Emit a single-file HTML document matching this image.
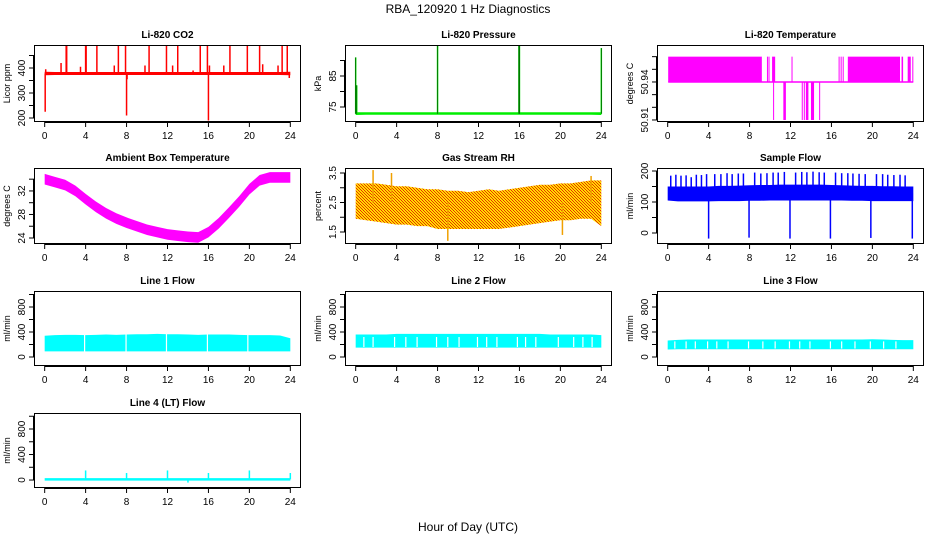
<!DOCTYPE html>
<html><head><meta charset="utf-8"><style>
body{margin:0;background:#fff;}
svg{display:block;font-family:"Liberation Sans",Arial,sans-serif;}
</style></head><body>
<svg id="c" width="936" height="540" xmlns="http://www.w3.org/2000/svg">
<defs><pattern id="rhpat" width="3" height="3" patternUnits="userSpaceOnUse"><rect width="3" height="3" fill="#ffdd00"/><rect width="1" height="1" fill="#e83000"/><rect x="1" y="1" width="1" height="1" fill="#e83000"/><rect x="2" y="2" width="1" height="1" fill="#e83000"/></pattern></defs>
<text x="468" y="13" text-anchor="middle" font-size="12">RBA_120920  1 Hz Diagnostics</text>
<text x="468" y="531" text-anchor="middle" font-size="12">Hour of Day (UTC)</text>
</svg>
<script>
// ---- data ----
const hours=[0,1,2,3,4,5,6,7,8,9,10,11,12,13,14,15,16,17,18,19,20,21,22,23,24];
const xTicks=[0,4,8,12,16,20,24];
// CO2
const co2Lo=[371,372,372,372,372,372,372,372,372,372,372,372,372,372,372,372,372,372,372,372,372,372,372,372,371];
const co2Hi=[385,384,384,384,384,384,384,384,384,384,384,384,384,384,384,384,384,384,384,384,384,384,384,384,385];
const co2SpikeHours=[0.05,0.1,1.6,2.1,2.15,3.5,4.0,4.05,5.1,6.8,7.2,7.9,8.0,8.05,9.8,10.2,11.9,12.5,13.0,14.5,15.2,15.9,16.0,16.1,17.5,18.1,19.8,21.0,21.3,22.8,23.2,23.7,23.9];
const co2SpikeVals=[225,395,420,490,490,405,490,490,490,410,490,490,210,355,410,490,490,410,490,390,490,490,190,410,410,490,490,490,415,410,490,490,360];
// Pressure
const presLo=[72.4,72.5,72.5,72.5,72.5,72.5,72.5,72.5,72.5,72.5,72.5,72.5,72.5,72.5,72.5,72.5,72.5,72.5,72.5,72.5,72.5,72.5,72.5,72.5,72.4];
const presHi=[73.3,73.3,73.3,73.3,73.3,73.3,73.3,73.3,73.3,73.3,73.3,73.3,73.3,73.3,73.3,73.3,73.3,73.3,73.3,73.3,73.3,73.3,73.3,73.3,73.3];
const presSpikeHours=[0.0,0.1,8.0,15.95,16.0,24.0];
const presSpikeVals=[91,82,95,95,95,94];
// Li-820 temperature (fill between base and level)
const ltBase=50.94;
const ltStart=[0.05,9.7,9.85,10.2,12.1,16.7,16.9,17.1,17.6,22.85,23.45,23.9,10.3,11.3,13.1,13.3,13.5,14.0,14.8];
const ltEnd=[9.2,9.75,9.9,10.5,12.15,16.75,16.95,17.15,22.7,23.0,23.75,24.0,10.35,11.55,13.15,13.35,13.75,14.3,14.85];
const ltLevel=[50.96,50.96,50.96,50.96,50.96,50.96,50.96,50.96,50.96,50.96,50.96,50.96,50.91,50.91,50.91,50.91,50.91,50.91,50.91];
// Ambient box temperature
const ambMid=[34.0,33.5,33.0,32.0,30.6,29.3,28.2,27.3,26.6,26.0,25.4,25.0,24.6,24.4,24.2,24.1,25.0,26.5,28.3,30.2,32.3,33.8,34.3,34.3,34.3];
const ambHalf=0.9;
// Gas stream RH
const rhLo=[1.95,1.9,1.85,1.8,1.75,1.75,1.7,1.7,1.6,1.6,1.6,1.6,1.6,1.6,1.6,1.65,1.7,1.75,1.8,1.85,1.9,1.9,1.95,1.95,1.7];
const rhHi=[3.15,3.15,3.15,3.1,3.05,3.05,3.0,2.95,2.95,2.9,2.9,2.85,2.9,2.95,2.9,2.95,3.0,3.05,3.1,3.1,3.15,3.15,3.2,3.25,3.25];
const rhSpikeHours=[1.7,3.5,9.0,20.2,23.0];
const rhSpikeVals=[3.6,3.5,1.2,1.4,3.4];
// Sample flow
const sfLo=[105,102,102,102,102,103,103,103,104,104,105,105,105,105,105,105,105,105,104,104,103,103,103,103,103];
const sfHi=[150,150,150,150,150,152,152,153,154,155,155,156,156,156,156,156,155,154,153,152,152,151,151,150,150];
const sfSpikeHours=[0.3,0.8,1.3,1.8,2.3,2.8,3.3,3.8,4.0,4.6,5.2,5.8,6.3,6.9,7.4,7.95,8.5,9.1,9.7,10.3,10.8,11.4,11.95,12.5,13.1,13.6,14.2,14.8,15.3,15.9,16.4,17.0,17.6,18.1,18.7,19.3,19.85,20.4,21.0,21.5,22.1,22.7,23.2,23.9];
const sfSpikeVals=[185,188,185,186,180,188,187,190,-18,190,190,193,190,192,192,-15,195,192,193,195,195,197,-18,195,197,196,198,196,195,-18,195,193,193,192,191,190,-16,190,190,188,187,188,186,-18];
// Line flows
const l1Lo=[90,90,90,90,90,90,90,90,90,90,90,90,90,90,90,90,90,90,90,90,90,90,90,90,90];
const l1Hi=[340,350,355,355,350,355,360,355,360,365,365,370,365,365,360,355,360,360,360,355,350,350,350,345,300];
const l1GapHours=[3.9,7.95,11.9,15.9,19.85];
const l2Lo=[150,150,150,150,150,150,150,150,150,150,150,150,150,150,150,150,150,150,150,150,150,150,150,150,150];
const l2Hi=[360,360,360,360,370,370,370,370,370,370,370,370,370,370,370,370,370,370,370,360,360,360,360,360,350];
const l2GapHours=[0.8,1.7,3.8,4.9,6.0,7.9,9.0,10.1,11.9,12.8,13.8,15.8,16.6,17.6,19.8,21.3,22.2,23.1];
const l3Lo=[120,125,125,125,125,125,125,125,125,125,125,125,125,125,125,125,125,125,125,125,125,125,125,125,125];
const l3Hi=[265,275,280,280,280,280,280,280,280,280,280,280,280,280,280,280,280,280,280,280,285,280,275,270,270];
const l3GapHours=[0.7,1.8,2.7,3.9,4.8,5.9,7.9,9.3,10.5,11.9,12.9,13.9,15.9,17.0,18.3,19.8,21.1,22.3];
const l4Lo=[-10,-10,-10,-10,-10,-10,-10,-10,-10,-10,-10,-10,-10,-10,-10,-10,-10,-10,-10,-10,-10,-10,-10,-10,-10];
const l4Hi=[30,30,30,30,30,30,30,30,30,30,30,30,30,30,30,30,30,30,30,30,30,30,30,30,30];
const l4SpikeHours=[4.0,8.0,12.0,14.0,16.0,20.0,24.0];
const l4SpikeVals=[150,110,150,-40,110,150,110];

// ---- layout ----
const svg=document.getElementById('c');
const NS='http://www.w3.org/2000/svg';
const colX=[[34,301],[345,612],[657,924]];
const rowY=[[45,122],[168,244],[291,366],[413,488]];
function el(tag,attrs,parent){const e=document.createElementNS(NS,tag);for(const k in attrs)e.setAttribute(k,attrs[k]);(parent||svg).appendChild(e);return e;}

function panel(name,col,row,title,ylab,ymin,ymax,yticks,ylabels){
  const [x0,x1]=colX[col],[y0,y1]=rowY[row];
  const g=el('g',{});
  
  
  const w=x1-x0;
  const sx=h=>x0+w*0.04+(h/24)*w*0.92;
  const sy=v=>y1-(v-ymin)/(ymax-ymin)*(y1-y0);
  const t=el('text',{x:(x0+x1)/2,y:y0-7,'text-anchor':'middle','font-size':'10','font-weight':'bold'},g);
  t.textContent=title;
  
  
  const plot=el('g',{},g);
  
  
  const ax=el('g',{stroke:'#000','stroke-width':'1',fill:'none'},g);
  
  
  el('line',{x1:sx(0),x2:sx(24),y1:y1+0.5,y2:y1+0.5},ax);
  xTicks.forEach(h=>{
    el('line',{x1:sx(h),x2:sx(h),y1:y1,y2:y1+5},ax);
    const l=el('text',{x:sx(h),y:y1+17,'text-anchor':'middle','font-size':'10',fill:'#000',stroke:'none'},ax);
    l.textContent=h;
    
    
  });
  const ay=el('g',{stroke:'#000','stroke-width':'1',fill:'none'},g);
  
  
  yticks.forEach((v,i)=>{
    const y=sy(v);
    el('line',{x1:x0-5,x2:x0,y1:y,y2:y},ay);
    if(ylabels[i]){
      const l=el('text',{x:0,y:0,transform:`translate(${x0-9},${y}) rotate(-90)`,'text-anchor':'middle','font-size':'10',fill:'#000',stroke:'none'},ay);
      l.textContent=ylabels[i];
      
      
    }
  });
  el('line',{x1:x0-0.5,x2:x0-0.5,y1:sy(yticks[0]),y2:sy(yticks[yticks.length-1])},ay);
  const yl=el('text',{x:0,y:0,transform:`translate(${x0-24},${(y0+y1)/2}) rotate(-90)`,'text-anchor':'middle','font-size':'9'},g);
  yl.textContent=ylab;
  
  
  el('rect',{x:x0+0.5,y:y0+0.5,width:w-1,height:y1-y0-1,fill:'none',stroke:'#000'},g);
  return {sx,sy,plot};
}
function band(p,lo,hi,fill){
  let d='';
  hours.forEach((h,i)=>{d+=(i?'L':'M')+p.sx(h)+' '+p.sy(hi[i]);});
  for(let i=hours.length-1;i>=0;i--)d+='L'+p.sx(hours[i])+' '+p.sy(lo[i]);
  const e=el('path',{d:d+'Z',fill:fill,stroke:'none'},p.plot);
  
  
}
function spikes(p,hs,vs,base,color,w){
  hs.forEach((h,i)=>{
    const e=el('line',{x1:p.sx(h),x2:p.sx(h),y1:p.sy(base),y2:p.sy(vs[i]),stroke:color,'stroke-width':w||1.5},p.plot);
    
    
  });
}
function gaps(p,hs,lo,hi){
  hs.forEach(h=>{
    const e=el('line',{x1:p.sx(h),x2:p.sx(h),y1:p.sy(lo),y2:p.sy(hi),stroke:'#fff','stroke-width':1.2},p.plot);
    
    
  });
}

let p=panel('co2',0,0,'Li-820 CO2','Licor ppm',184,492,[200,250,300,350,400,450],['200','','300','','400','']);
band(p,co2Lo,co2Hi,'#ff0000');spikes(p,co2SpikeHours,co2SpikeVals,378,'#ff0000',1.5);
p=panel('pressure',1,0,'Li-820 Pressure','kPa',70.16,95,[75,80,85,90],['75','','85','']);
band(p,presLo,presHi,'#00ee00');spikes(p,presSpikeHours,presSpikeVals,72.8,'#00dd00',1.5);
spikes(p,presSpikeHours,presSpikeVals,72.8,'#000',0.4);
p=panel('li-temp',2,0,'Li-820 Temperature','degrees C',50.9084,50.9692,[50.91,50.92,50.93,50.94,50.95,50.96],['50.91','','','50.94','','']);
ltStart.forEach((s,i)=>{
  const y1=p.sy(ltBase),y2=p.sy(ltLevel[i]);
  const r=el('rect',{x:p.sx(s),y:Math.min(y1,y2),width:Math.max(1,p.sx(ltEnd[i])-p.sx(s)),height:Math.abs(y2-y1),fill:'#ff00ff'},p.plot);
  
  
});
el('line',{x1:p.sx(0.05),x2:p.sx(24),y1:p.sy(ltBase),y2:p.sy(ltBase),stroke:'#ff00ff','stroke-width':1.5},p.plot);
p=panel('ambient-temp',0,1,'Ambient Box Temperature','degrees C',22.98,35.9,[24,26,28,30,32,34],['24','','28','','32','']);
band(p,ambMid.map(v=>v-ambHalf),ambMid.map(v=>v+ambHalf),'#ff00ff');
p=panel('gas-rh',1,1,'Gas Stream RH','percent',1.093,3.67,[1.5,2,2.5,3,3.5],['1.5','','2.5','','3.5']);
band(p,rhLo,rhHi,'url(#rhpat)');spikes(p,rhSpikeHours,rhSpikeVals,2.5,'#f0a000',1.5);
p=panel('sample-flow',2,1,'Sample Flow','ml/min',-35.5,209.7,[0,50,100,150,200],['0','','100','','200']);
band(p,sfLo,sfHi,'#0000ff');spikes(p,sfSpikeHours,sfSpikeVals,128,'#0000ff',1.5);
const ft=[0,200,400,600,800,1000],fl=['0','','400','','800',''];
p=panel('line1-flow',0,2,'Line 1 Flow','ml/min',-144,1056,ft,fl);
band(p,l1Lo,l1Hi,'#00ffff');gaps(p,l1GapHours,80,380);
p=panel('line2-flow',1,2,'Line 2 Flow','ml/min',-144,1056,ft,fl);
band(p,l2Lo,l2Hi,'#00ffff');gaps(p,l2GapHours,160,320);
p=panel('line3-flow',2,2,'Line 3 Flow','ml/min',-144,1056,ft,fl);
band(p,l3Lo,l3Hi,'#00ffff');gaps(p,l3GapHours,135,250);
p=panel('line4-flow',0,3,'Line 4 (LT) Flow','ml/min',-125,1051,ft,fl);
band(p,l4Lo,l4Hi,'#00ffff');spikes(p,l4SpikeHours,l4SpikeVals,10,'#00ffff',1.5);
</script>
</body></html>
